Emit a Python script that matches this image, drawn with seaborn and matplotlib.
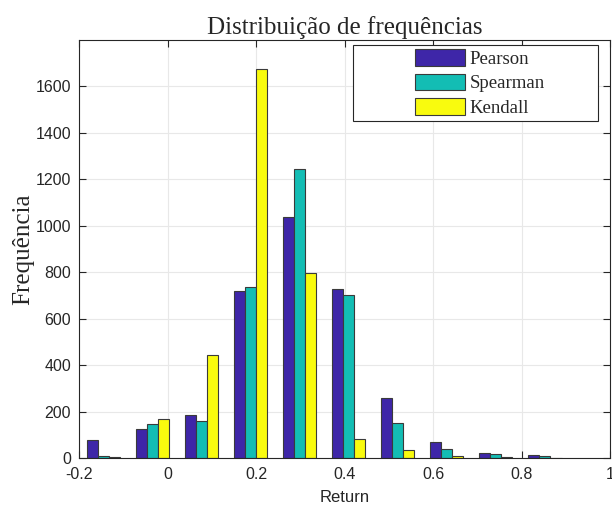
import matplotlib
matplotlib.use("Agg")
import matplotlib.pyplot as plt
from matplotlib.patches import Rectangle
import pandas as pd
import seaborn as sns

# Distribuicao de frequencias das correlacoes

bin_centers = [-0.146, -0.035, 0.076, 0.187, 0.298, 0.409, 0.520, 0.631, 0.742, 0.853]
pearson = [78, 124, 185, 719, 1038, 730, 259, 68, 24, 14]
spearman = [11, 148, 162, 738, 1243, 703, 154, 40, 18, 11]
kendall = [4, 168, 445, 1675, 797, 81, 35, 8, 6, 3]
methods = ["Pearson", "Spearman", "Kendall"]
colors = ["#3e26a8", "#13bdb4", "#f9fb0e"]

x_ticks = [-0.2, 0, 0.2, 0.4, 0.6, 0.8, 1]
x_labels = ["-0.2", "0", "0.2", "0.4", "0.6", "0.8", "1"]
y_ticks = [0, 200, 400, 600, 800, 1000, 1200, 1400, 1600]

df = pd.DataFrame({
    "center": bin_centers * 3,
    "count": pearson + spearman + kendall,
    "method": [m for m in methods for _ in bin_centers],
})

sns.set_style("whitegrid")
plt.rcParams["font.family"] = ["Liberation Sans", "DejaVu Sans"]

fig = plt.figure(figsize=(6.12, 5.07), dpi=100)
ax = fig.add_axes([79.3 / 612, 48.7 / 507, 530.7 / 612, 418.3 / 507])

sns.barplot(data=df, x="center", y="count", hue="method", hue_order=methods,
            palette=colors, native_scale=True, width=0.673, saturation=1,
            edgecolor="#3a3a3a", linewidth=0.8, ax=ax, zorder=3)

ax.set_xlim(-0.2, 1)
ax.set_ylim(0, 1800)
ax.set_xticks(x_ticks)
ax.set_xticklabels(x_labels)
ax.set_yticks(y_ticks)
ax.grid(True, color="#e8e8e8", linewidth=0.8)
ax.set_axisbelow(True)
for s in ax.spines.values():
    s.set_color("#262626")
    s.set_linewidth(0.8)
    s.set_zorder(5)
ax.tick_params(direction="in", length=5, width=0.8, color="#262626",
               labelcolor="#262626", labelsize=11.5, pad=6,
               top=True, right=True, bottom=True, left=True)

ax.set_title("Distribuição de frequências", family="Liberation Serif",
             fontsize=18, pad=4)
ax.set_ylabel("Frequência", family="Liberation Serif", fontsize=18, labelpad=1)
ax.set_xlabel("Return", fontsize=12, color="#262626", labelpad=6)

# Legenda estilo MATLAB
handles, labels = ax.get_legend_handles_labels()
frame = Rectangle((0.516, 0.806), 0.461, 0.182, transform=ax.transAxes,
                  facecolor="white", edgecolor="#262626", linewidth=0.8, zorder=6)
ax.add_patch(frame)
leg = ax.legend(handles, labels, loc="upper left", bbox_to_anchor=(0.633, 0.978),
                frameon=False, prop={"family": "Liberation Serif", "size": 13.5},
                handlelength=2.65, handleheight=1.0, handletextpad=0.25,
                labelspacing=0.3, borderpad=0, borderaxespad=0)
leg.set_zorder(7)

fig.savefig("out.png", dpi=100)
plt.close()
